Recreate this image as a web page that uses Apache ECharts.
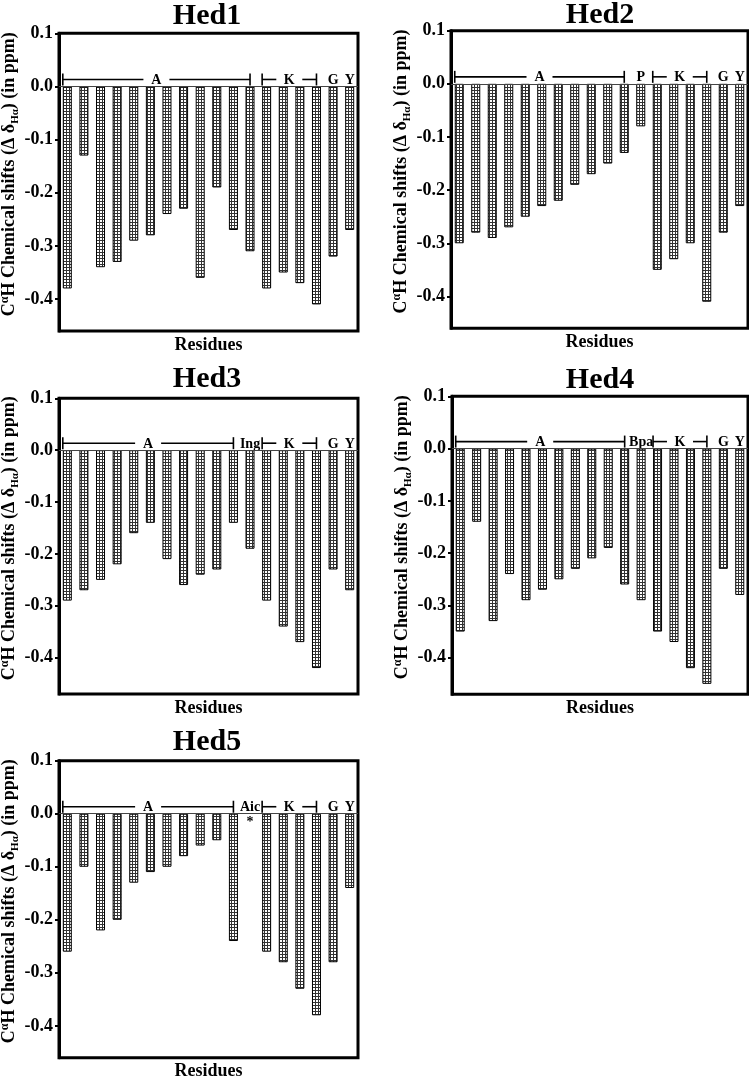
<!DOCTYPE html>
<html>
<head>
<meta charset="utf-8">
<script src="https://cdn.jsdelivr.net/npm/echarts@6/dist/echarts.min.js"></script>
<style>
  html, body { margin: 0; padding: 0; background: #fff; }
  #main { width: 749px; height: 1078px; }
</style>
</head>
<body>
<div id="main"></div>
<script>
// residue positions (no tick labels shown in the figure)
const residues = ['1','2','3','4','5','6','7','8','9','10','11','12','13','14','15','16','17','18'];

// CαH chemical shift deviations, ppm
const hed1 = [-0.38, -0.13, -0.34, -0.33, -0.29, -0.28, -0.24, -0.23, -0.36, -0.19, -0.27, -0.31, -0.38, -0.35, -0.37, -0.41, -0.32, -0.27];
const hed2 = [-0.30, -0.28, -0.29, -0.27, -0.25, -0.23, -0.22, -0.19, -0.17, -0.15, -0.13, -0.08, -0.35, -0.33, -0.30, -0.41, -0.28, -0.23];
const hed3 = [-0.29, -0.27, -0.25, -0.22, -0.16, -0.14, -0.21, -0.26, -0.24, -0.23, -0.14, -0.19, -0.29, -0.34, -0.37, -0.42, -0.23, -0.27];
const hed4 = [-0.35, -0.14, -0.33, -0.24, -0.29, -0.27, -0.25, -0.23, -0.21, -0.19, -0.26, -0.29, -0.35, -0.37, -0.42, -0.45, -0.23, -0.28];
const hed5 = [-0.26, -0.10, -0.22, -0.20, -0.13, -0.11, -0.10, -0.08, -0.06, -0.05, -0.24, null, -0.26, -0.28, -0.33, -0.38, -0.28, -0.14];

// residue group labels: [first index, last index, text]
const groups1 = [[0, 11, 'A'], [12, 15, 'K'], [16, 16, 'G'], [17, 17, 'Y']];
const groups2 = [[0, 10, 'A'], [11, 11, 'P'], [12, 15, 'K'], [16, 16, 'G'], [17, 17, 'Y']];
const groups3 = [[0, 10, 'A'], [11, 11, 'Ing'], [12, 15, 'K'], [16, 16, 'G'], [17, 17, 'Y']];
const groups4 = [[0, 10, 'A'], [11, 11, 'Bpa'], [12, 15, 'K'], [16, 16, 'G'], [17, 17, 'Y']];
const groups5 = [[0, 10, 'A'], [11, 11, 'Aic'], [12, 15, 'K'], [16, 16, 'G'], [17, 17, 'Y']];
const starred5 = [11];

const yMax = 0.1;
const FONT = 'Liberation Serif';

const panels = [
  { title: 'Hed1', data: hed1, groups: groups1, stars: [], min: -0.46, left: 59, width: 299, top: 33.3, height: 297.7, cx: 207, ty: 1 },
  { title: 'Hed2', data: hed2, groups: groups2, stars: [], min: -0.46, left: 451, width: 297, top: 30.7, height: 297.6, cx: 600, ty: 0 },
  { title: 'Hed3', data: hed3, groups: groups3, stars: [], min: -0.47, left: 59, width: 299, top: 398.3, height: 295.7, cx: 207, ty: 364 },
  { title: 'Hed4', data: hed4, groups: groups4, stars: [], min: -0.47, left: 452, width: 296, top: 396.3, height: 298, cx: 600, ty: 365 },
  { title: 'Hed5', data: hed5, groups: groups5, stars: starred5, min: -0.46, left: 59, width: 299, top: 760.7, height: 297, cx: 207, ty: 727 }
];

// hatched fill for bars
function makePattern() {
  const c = document.createElement('canvas');
  c.width = 3; c.height = 3;
  const ctx = c.getContext('2d');
  ctx.fillStyle = '#fff';
  ctx.fillRect(0, 0, 3, 3);
  ctx.fillStyle = '#333';
  ctx.fillRect(0, 0, 3, 1);
  ctx.fillRect(0, 0, 1, 3);
  return c;
}
const hatch = { image: makePattern(), repeat: 'repeat' };

const BAR_W = 9;

function groupRenderer(groups, stars) {
  return function (params, api) {
    const g = groups[params.dataIndex];
    const a = api.coord([g[0], 0]);
    const b = api.coord([g[1], 0]);
    const y = a[1] - 7;
    const children = [];
    const font = 'bold 14px "' + FONT + '"';
    if (g[0] !== g[1]) {
      const x1 = a[0] - BAR_W / 2;
      const x2 = b[0];
      const mid = (x1 + x2) / 2;
      const gap = 13;
      const ls = { stroke: '#000', lineWidth: 1.6 };
      children.push({ type: 'line', shape: { x1: x1, y1: y, x2: mid - gap, y2: y }, style: ls });
      children.push({ type: 'line', shape: { x1: mid + gap, y1: y, x2: x2, y2: y }, style: ls });
      children.push({ type: 'line', shape: { x1: x1, y1: y - 6, x2: x1, y2: y + 6 }, style: ls });
      children.push({ type: 'line', shape: { x1: x2, y1: y - 6, x2: x2, y2: y + 6 }, style: ls });
      children.push({ type: 'text', style: { text: g[2], x: mid, y: y + 1, align: 'center', verticalAlign: 'middle', font: font, fill: '#000' } });
    } else {
      children.push({ type: 'text', style: { text: g[2], x: a[0], y: y + 1, align: 'center', verticalAlign: 'middle', font: font, fill: '#000' } });
    }
    if (stars.indexOf(g[0]) >= 0 && g[0] === g[1]) {
      children.push({ type: 'text', style: { text: '*', x: a[0], y: a[1] + 9, align: 'center', verticalAlign: 'middle', font: 'bold 14px "' + FONT + '"', fill: '#000' } });
    }
    return { type: 'group', children: children };
  };
}

const chart = echarts.init(document.getElementById('main'));

const option = {
  animation: false,
  backgroundColor: '#fff',
  title: panels.map(p => ({
    text: p.title,
    left: p.cx,
    top: p.ty,
    textAlign: 'center',
    padding: 0,
    textStyle: { fontFamily: FONT, fontSize: 30, fontWeight: 'bold', color: '#000' }
  })),
  grid: panels.map(p => ({
    left: p.left, top: p.top, width: p.width, height: p.height,
    outerBoundsMode: 'none',
    containLabel: false,
    show: true, borderWidth: 3, borderColor: '#000', backgroundColor: 'transparent'
  })),
  xAxis: panels.map((p, i) => ({
    type: 'category',
    gridIndex: i,
    data: residues,
    axisLine: { show: false, onZero: false },
    axisTick: { show: false },
    axisLabel: { show: false },
    name: 'Residues',
    nameLocation: 'middle',
    nameGap: 5,
    nameTextStyle: { fontFamily: FONT, fontSize: 18, fontWeight: 'bold', color: '#000', verticalAlign: 'top' }
  })),
  yAxis: panels.map((p, i) => ({
    type: 'value',
    gridIndex: i,
    min: p.min,
    max: yMax,
    splitLine: { show: false },
    axisLine: { show: true, onZero: false, lineStyle: { color: '#000', width: 3 } },
    axisTick: { show: true, length: 4, lineStyle: { color: '#000', width: 2 } },
    axisLabel: {
      showMinLabel: false,
      margin: 6,
      fontFamily: FONT, fontSize: 18, fontWeight: 'bold', color: '#000',
      formatter: v => v.toFixed(1)
    },
    name: '{a|C}{sup|α}{a|H Chemical shifts (Δ δ}{sub|Hα}{a|) (in ppm)}',
    nameLocation: 'middle',
    nameGap: 38,
    nameTextStyle: {
      color: '#000',
      padding: [0, 0, 0, 16],
      rich: {
        a: { fontFamily: FONT, fontSize: 18, fontWeight: 'bold', color: '#000', lineHeight: 22, verticalAlign: 'middle' },
        sup: { fontFamily: FONT, fontSize: 12, fontWeight: 'bold', color: '#000', lineHeight: 11, verticalAlign: 'top' },
        sub: { fontFamily: FONT, fontSize: 11, fontWeight: 'bold', color: '#000', lineHeight: 9, verticalAlign: 'bottom' }
      }
    }
  })),
  series: panels.flatMap((p, i) => [
    {
      type: 'bar',
      name: p.title,
      xAxisIndex: i,
      yAxisIndex: i,
      data: p.data,
      barWidth: BAR_W,
      itemStyle: { color: hatch, borderColor: '#000', borderWidth: 1 },
      markLine: {
        silent: true,
        symbol: 'none',
        label: { show: false },
        lineStyle: { color: '#444', width: 1, type: 'solid' },
        data: [{ yAxis: 0 }]
      }
    },
    {
      type: 'custom',
      xAxisIndex: i,
      yAxisIndex: i,
      silent: true,
      renderItem: groupRenderer(p.groups, p.stars),
      data: p.groups.map(g => [g[0], 0])
    }
  ])
};

chart.setOption(option);
</script>
</body>
</html>
